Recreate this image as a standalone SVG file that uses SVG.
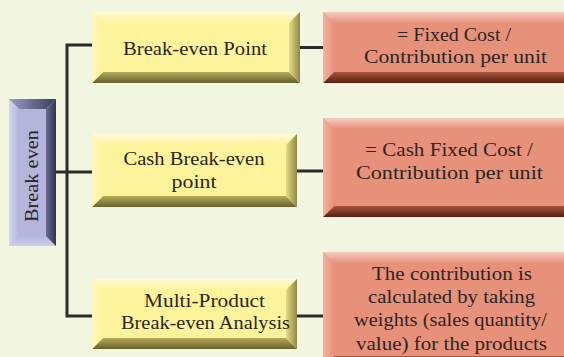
<svg xmlns="http://www.w3.org/2000/svg" width="564" height="357" viewBox="0 0 564 357">
<defs>
<style>
text{font-family:'Liberation Serif','DejaVu Serif',serif;font-size:18.5px;fill:#2b2622;text-anchor:middle}
.ln{stroke:#2a2a2a;stroke-width:3;fill:none}
.yf{fill:#fdf39a}.rf{fill:#e8917a}.pf{fill:#b5b4dc}
</style>
<linearGradient id="yT" x1="0" y1="0" x2="0" y2="1"><stop offset="0" stop-color="#fffbd6"/><stop offset="1" stop-color="#fdf39a"/></linearGradient>
<linearGradient id="yB" x1="0" y1="0" x2="0" y2="1"><stop offset="0" stop-color="#b5ac5a"/><stop offset="1" stop-color="#676130"/></linearGradient>
<linearGradient id="yL" x1="0" y1="0" x2="1" y2="0"><stop offset="0" stop-color="#fff7c2"/><stop offset="1" stop-color="#fdf39a"/></linearGradient>
<linearGradient id="yR" x1="0" y1="0" x2="1" y2="0"><stop offset="0" stop-color="#e6dc84"/><stop offset="1" stop-color="#8f8944"/></linearGradient>
<linearGradient id="rT" x1="0" y1="0" x2="0" y2="1"><stop offset="0" stop-color="#f3cdbd"/><stop offset="1" stop-color="#e8917a"/></linearGradient>
<linearGradient id="rB" x1="0" y1="0" x2="0" y2="1"><stop offset="0" stop-color="#a8543e"/><stop offset="1" stop-color="#56200f"/></linearGradient>
<linearGradient id="rL" x1="0" y1="0" x2="1" y2="0"><stop offset="0" stop-color="#f0b4a0"/><stop offset="1" stop-color="#e8917a"/></linearGradient>
<linearGradient id="pL" x1="0" y1="0" x2="1" y2="0"><stop offset="0" stop-color="#d6d6ee"/><stop offset="1" stop-color="#b5b4dc"/></linearGradient>
<linearGradient id="pR" x1="0" y1="0" x2="1" y2="0"><stop offset="0" stop-color="#6a6a92"/><stop offset="1" stop-color="#33334f"/></linearGradient>
<linearGradient id="pT" x1="0" y1="0" x2="1" y2="0"><stop offset="0" stop-color="#9c9cc8"/><stop offset="1" stop-color="#3a3a5a"/></linearGradient>
<linearGradient id="pB" x1="0" y1="0" x2="0" y2="1"><stop offset="0" stop-color="#b5b4dc"/><stop offset="1" stop-color="#cfcfea"/></linearGradient>
</defs>
<rect width="564" height="357" fill="#f2f6e1"/>

<g id="connectors">
<path class="ln" d="M92 45 H67 V316 H92"/>
<path class="ln" d="M56 172 H92"/>
<path class="ln" d="M300 47.5 H323"/>
<path class="ln" d="M297 171 H323"/>
<path class="ln" d="M297 316 H323"/>
</g>

<g id="root-break-even">
<rect class="pf" x="9" y="99" width="47" height="147"/>
<polygon points="9,99 56,99 46,109 19,109" fill="url(#pT)"/>
<polygon points="9,246 56,246 46,236 19,236" fill="url(#pB)"/>
<polygon points="9,99 19,109 19,236 9,246" fill="url(#pL)"/>
<polygon points="56,99 46,109 46,236 56,246" fill="url(#pR)"/>
<text transform="translate(37.5,176) rotate(-90)" textLength="92" lengthAdjust="spacingAndGlyphs">Break even</text>
</g>

<g id="n-bep">
<rect class="yf" x="92" y="12" width="208" height="71"/>
<polygon points="92,12 300,12 289,23 103,23" fill="url(#yT)"/>
<polygon points="92,83 300,83 289,72 103,72" fill="url(#yB)"/>
<polygon points="92,12 103,23 103,72 92,83" fill="url(#yL)"/>
<polygon points="300,12 289,23 289,72 300,83" fill="url(#yR)"/>
<text x="195" y="55" textLength="144" lengthAdjust="spacingAndGlyphs">Break-even Point</text>
</g>

<g id="n-cbep">
<rect class="yf" x="92" y="134" width="205" height="73"/>
<polygon points="92,134 297,134 286,145 103,145" fill="url(#yT)"/>
<polygon points="92,207 297,207 286,196 103,196" fill="url(#yB)"/>
<polygon points="92,134 103,145 103,196 92,207" fill="url(#yL)"/>
<polygon points="297,134 286,145 286,196 297,207" fill="url(#yR)"/>
<text x="194" y="165" textLength="141" lengthAdjust="spacingAndGlyphs">Cash Break-even</text>
<text x="194" y="188" textLength="45" lengthAdjust="spacingAndGlyphs">point</text>
</g>

<g id="n-mpbea">
<rect class="yf" x="92" y="279" width="205" height="70"/>
<polygon points="92,279 297,279 286,290 103,290" fill="url(#yT)"/>
<polygon points="92,349 297,349 286,338 103,338" fill="url(#yB)"/>
<polygon points="92,279 103,290 103,338 92,349" fill="url(#yL)"/>
<polygon points="297,279 286,290 286,338 297,349" fill="url(#yR)"/>
<text x="204.5" y="307" textLength="121" lengthAdjust="spacingAndGlyphs">Multi-Product</text>
<text x="205.5" y="329" textLength="169" lengthAdjust="spacingAndGlyphs">Break-even Analysis</text>
</g>

<g id="r-bep">
<rect class="rf" x="323" y="12" width="260" height="71"/>
<polygon points="323,12 583,12 572,23 334,23" fill="url(#rT)"/>
<polygon points="323,83 583,83 572,72 334,72" fill="url(#rB)"/>
<polygon points="323,12 334,23 334,72 323,83" fill="url(#rL)"/>
<text x="454" y="41" textLength="114" lengthAdjust="spacingAndGlyphs">= Fixed Cost /</text>
<text x="455.5" y="63" textLength="183" lengthAdjust="spacingAndGlyphs">Contribution per unit</text>
</g>

<g id="r-cbep">
<rect class="rf" x="323" y="118" width="260" height="99"/>
<polygon points="323,118 583,118 572,129 334,129" fill="url(#rT)"/>
<polygon points="323,217 583,217 572,206 334,206" fill="url(#rB)"/>
<polygon points="323,118 334,129 334,206 323,217" fill="url(#rL)"/>
<text x="449" y="156" textLength="168" lengthAdjust="spacingAndGlyphs">= Cash Fixed Cost /</text>
<text x="449.5" y="179" textLength="187" lengthAdjust="spacingAndGlyphs">Contribution per unit</text>
</g>

<g id="r-mpbea">
<rect class="rf" x="323" y="252" width="260" height="115"/>
<polygon points="323,252 583,252 572,263 334,263" fill="url(#rT)"/>
<polygon points="323,367 583,367 572,356 334,356" fill="url(#rB)"/>
<polygon points="323,252 334,263 334,356 323,367" fill="url(#rL)"/>
<text x="452" y="280" textLength="160" lengthAdjust="spacingAndGlyphs">The contribution is</text>
<text x="451.5" y="303" textLength="167" lengthAdjust="spacingAndGlyphs">calculated by taking</text>
<text x="450.5" y="326" textLength="193" lengthAdjust="spacingAndGlyphs">weights (sales quantity/</text>
<text x="451.5" y="350" textLength="191" lengthAdjust="spacingAndGlyphs">value) for the products</text>
</g>
</svg>
